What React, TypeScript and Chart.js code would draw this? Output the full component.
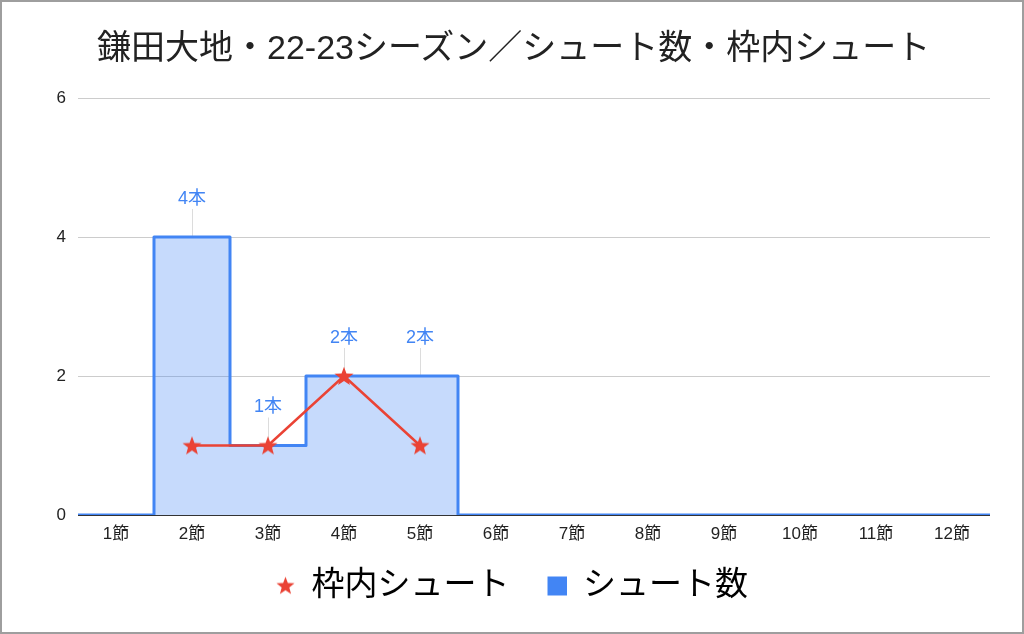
import React, { useEffect, useRef } from 'react';
import { Chart, registerables } from 'chart.js';

Chart.register(...registerables);

const TITLE = '鎌田大地・22-23シーズン／シュート数・枠内シュート';
const rounds = ['1節', '2節', '3節', '4節', '5節', '6節', '7節', '8節', '9節', '10節', '11節', '12節'];
const shots = [0, 4, 1, 2, 2, 0, 0, 0, 0, 0, 0, 0];
const onTarget: (number | null)[] = [null, 1, 1, 2, 1, null, null, null, null, null, null, null];
const yTicks = [0, 2, 4, 6];
const onTargetName = '枠内シュート';
const shotsName = 'シュート数';
const labelSuffix = '本';

const FONT = "'Liberation Sans', 'Noto Sans CJK JP', sans-serif";
const BLUE = '#4285F4';
const RED = '#EA4335';

function starPath(g: CanvasRenderingContext2D, cx: number, cy: number, R: number) {
  const r = R * 0.42;
  g.beginPath();
  for (let i = 0; i < 10; i++) {
    const rad = i % 2 === 0 ? R : r;
    const a = -Math.PI / 2 + (i * Math.PI) / 5;
    const px = cx + rad * Math.cos(a), py = cy + rad * Math.sin(a);
    if (i === 0) g.moveTo(px, py); else g.lineTo(px, py);
  }
  g.closePath();
}

function makeStar(size: number, color: string) {
  const c = document.createElement('canvas');
  c.width = size;
  c.height = size;
  const g = c.getContext('2d')!;
  starPath(g, size / 2, size / 2 + size * 0.04, size / 2);
  g.fillStyle = color;
  g.fill();
  return c;
}

// legend markers: wide transparent canvas with the marker sitting at its right part
function makeLegendMarker(w: number, h: number, size: number, cxInBox: number, kind: 'star' | 'square', color: string) {
  const c = document.createElement('canvas');
  c.width = w;
  c.height = h;
  const g = c.getContext('2d')!;
  g.fillStyle = color;
  if (kind === 'star') {
    starPath(g, cxInBox, h / 2 + size * 0.04, size / 2);
    g.fill();
  } else {
    g.fillRect(Math.round(cxInBox - size / 2), Math.round(h / 2 - size / 2), size, size);
  }
  return c;
}

const labelPlugin = {
  id: 'shotLabels',
  beforeDatasetsDraw(chart: any) {
    const { ctx } = chart;
    const xs = chart.scales.x, ys = chart.scales.y;
    ctx.save();
    ctx.strokeStyle = '#dcdcdc';
    ctx.lineWidth = 1;
    shots.forEach((v, i) => {
      if (!v) return;
      const px = Math.round(xs.getPixelForValue(i)) + 0.5;
      const py = ys.getPixelForValue(v);
      ctx.beginPath();
      ctx.moveTo(px, py - 28);
      ctx.lineTo(px, py - 1);
      ctx.stroke();
    });
    ctx.restore();
  },
  afterDatasetsDraw(chart: any) {
    const { ctx } = chart;
    const xs = chart.scales.x, ys = chart.scales.y;
    ctx.save();
    ctx.fillStyle = BLUE;
    ctx.font = `18px ${FONT}`;
    ctx.textAlign = 'center';
    ctx.textBaseline = 'middle';
    shots.forEach((v, i) => {
      if (!v) return;
      ctx.fillText(`${v}${labelSuffix}`, xs.getPixelForValue(i), ys.getPixelForValue(v) - 38);
    });
    ctx.restore();
  },
};

export default function App() {
  const ref = useRef<HTMLCanvasElement>(null);

  useEffect(() => {
    document.body.style.margin = '0';
    const starPoint = makeStar(20, RED);
    const BOXW = 37;
    const starLegend = makeLegendMarker(BOXW, 24, 19, 27.5, 'star', RED);
    const squareLegend = makeLegendMarker(BOXW, 24, 19, 27.5, 'square', BLUE);

    const areaData = [
      { x: 0.5, y: shots[0] },
      ...shots.map((v, i) => ({ x: i + 1, y: v })),
      { x: shots.length + 0.5, y: shots[shots.length - 1] },
    ];

    const chart = new Chart(ref.current!, {
      type: 'line',
      data: {
        labels: rounds,
        datasets: [
          {
            label: onTargetName,
            data: onTarget,
            xAxisID: 'x',
            borderColor: RED,
            backgroundColor: RED,
            borderWidth: 2.5,
            pointStyle: starPoint as any,
            pointRadius: 9,
            fill: false,
            order: 0,
          },
          {
            label: shotsName,
            data: areaData as any,
            xAxisID: 'x2',
            borderColor: BLUE,
            backgroundColor: 'rgba(66,133,244,0.3)',
            borderWidth: 3,
            borderJoinStyle: 'round',
            stepped: 'middle',
            pointRadius: 0,
            fill: 'origin',
            order: 1,
          },
        ],
      },
      options: {
        animation: false,
        responsive: false,
        maintainAspectRatio: false,
        layout: { padding: { left: 16, right: 34, top: 98, bottom: 22 } },
        plugins: {
          title: { display: false },
          tooltip: { enabled: false },
          legend: {
            display: true,
            position: 'bottom',
            labels: {
              usePointStyle: true,
              pointStyleWidth: BOXW,
              boxHeight: 20,
              padding: 20,
              color: '#222',
              font: { family: FONT, size: 33 },
              generateLabels: () => [
                {
                  text: onTargetName,
                  pointStyle: starLegend,
                  fillStyle: RED,
                  strokeStyle: RED,
                  lineWidth: 0,
                  datasetIndex: 0,
                  hidden: false,
                },
                {
                  text: shotsName,
                  pointStyle: squareLegend,
                  fillStyle: BLUE,
                  strokeStyle: BLUE,
                  lineWidth: 0,
                  datasetIndex: 1,
                  hidden: false,
                },
              ],
            },
          },
        },
        scales: {
          x: {
            type: 'category',
            offset: true,
            grid: { display: false, drawTicks: false },
            border: { display: false },
            afterFit: (s: any) => {
              s.height = 34;
            },
            ticks: { color: '#222', font: { family: FONT, size: 17 }, padding: 9, maxRotation: 0, autoSkip: false },
          },
          x2: {
            type: 'linear',
            display: false,
            min: 0.5,
            max: rounds.length + 0.5,
          },
          y: {
            min: 0,
            max: 6,
            afterBuildTicks: (s: any) => {
              s.ticks = yTicks.map((v) => ({ value: v }));
            },
            afterFit: (s: any) => {
              s.width = 62;
            },
            grid: {
              drawTicks: false,
              color: (c: any) => (c.tick && c.tick.value === 0 ? '#333' : '#cccccc'),
              lineWidth: 1,
            },
            border: { display: false },
            ticks: { color: '#222', font: { family: FONT, size: 17 }, padding: 12 },
          },
        },
      } as any,
      plugins: [labelPlugin],
    });
    return () => chart.destroy();
  }, []);

  return (
    <div style={{ position: 'relative', width: 1024, height: 634, background: '#fff' }}>
      <canvas ref={ref} width={1024} height={634} style={{ position: 'absolute', left: 0, top: 0 }} />
      <div
        style={{
          position: 'absolute',
          left: 97,
          top: 27,
          fontFamily: FONT,
          fontSize: 34,
          color: '#222',
          whiteSpace: 'nowrap',
          lineHeight: '40px',
        }}
      >
        {TITLE}
      </div>
      <div
        style={{
          position: 'absolute',
          left: 0,
          top: 0,
          width: 1024,
          height: 634,
          boxSizing: 'border-box',
          border: '2px solid #9e9e9e',
          pointerEvents: 'none',
        }}
      />
    </div>
  );
}
